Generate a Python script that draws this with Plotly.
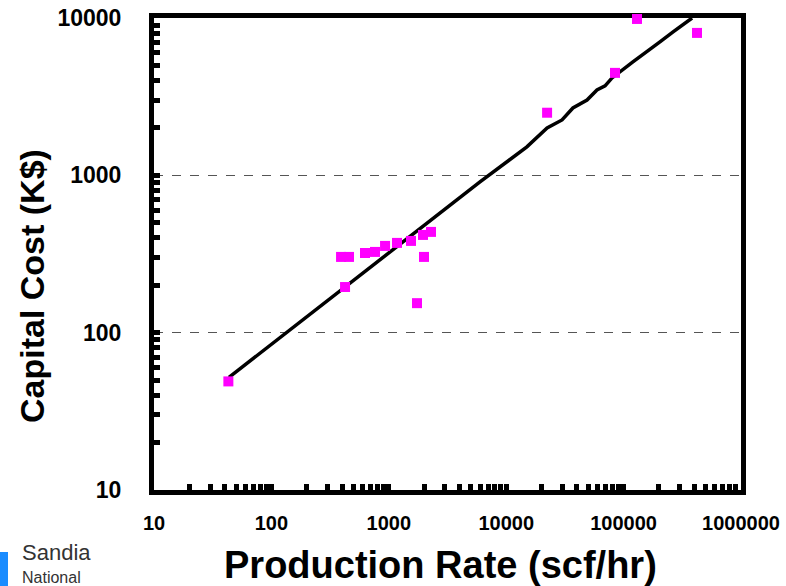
import plotly.graph_objects as go

# Data points (Production Rate scf/hr, Capital Cost K$)
rate = [43, 392, 458, 424, 627, 763, 929, 1175, 1546, 1955, 2287, 1994, 1738,
        22300, 84500, 130000, 422000]
cost = [49, 303, 303, 195, 321, 326, 356, 372, 383, 418, 437, 303, 154,
        2500, 4480, 9860, 8040]

# Fit line
fit_rate = [43.5, 5980, 15000, 22300, 29900, 37000, 48800, 59300, 69500, 79700,
            120000, 158000, 204000, 264000, 354000, 383000]
fit_cost = [52, 908, 1517, 2000, 2249, 2680, 3010, 3490, 3700, 4160,
            5260, 6090, 7050, 8160, 9590, 10000]

x_ticks = [10, 100, 1000, 10000, 100000, 1000000]
x_tick_text = ["10", "100", "1000", "10000", "100000", "1000000"]
y_ticks = [10, 100, 1000, 10000]
y_tick_text = ["10", "100", "1000", "10000"]

W, H = 786, 586
PL, PR, PT, PB = 154, 741, 18, 490          # plot area in page pixels
L, T = PL, PT
R, B = W - PR, H - PB
PW, PH = PR - PL, PB - PT


def px(x):
    return (x - PL) / PW


def py(y):
    return (PB - y) / PH


fig = go.Figure()
fig.add_trace(go.Scatter(x=fit_rate, y=fit_cost, mode="lines",
                         line=dict(color="black", width=3.5),
                         hoverinfo="skip", cliponaxis=False))
fig.add_trace(go.Scatter(x=rate, y=cost, mode="markers",
                         marker=dict(symbol="square", size=10, color="#ff00ff"),
                         cliponaxis=False))

axis_common = dict(
    type="log", showline=True, mirror=True, linewidth=5, linecolor="black",
    ticks="inside", ticklen=6, tickwidth=5, tickcolor="black",
    zeroline=False, layer="below traces", automargin=False,
    ticklabeloverflow="allow",
)

fig.update_xaxes(
    **axis_common, range=[1, 6], tickvals=x_ticks, ticktext=x_tick_text,
    showgrid=False,
    tickfont=dict(family="Liberation Sans, Arial", size=20, color="black", weight="bold"),
    ticklabelstandoff=11,
    minor=dict(ticks="inside", ticklen=6, tickwidth=5, tickcolor="black",
               dtick="D1", showgrid=False),
)
fig.update_yaxes(
    **axis_common, range=[1, 4], tickvals=y_ticks, ticktext=y_tick_text,
    showgrid=True, gridcolor="#555555", gridwidth=1, griddash="dash",
    tickfont=dict(family="Liberation Sans, Arial", size=23, color="black", weight="bold"),
    ticklabelstandoff=23,
    minor=dict(ticks="inside", ticklen=6, tickwidth=5, tickcolor="black",
               dtick="D1", showgrid=False),
)

annotations = [
    dict(text="<b>Capital Cost (K$)</b>", x=px(32), y=py(286), xref="paper", yref="paper",
         textangle=-90, showarrow=False, xanchor="center", yanchor="middle",
         font=dict(family="Liberation Sans, Arial", size=34, color="black")),
    dict(text="<b>Production Rate (scf/hr)</b>", x=px(440), y=py(565), xref="paper", yref="paper",
         showarrow=False, xanchor="center", yanchor="middle",
         font=dict(family="Liberation Sans, Arial", size=38, color="black")),
    dict(text="Sandia", x=px(20), y=py(552), xref="paper", yref="paper",
         showarrow=False, xanchor="left", yanchor="middle",
         font=dict(family="Liberation Sans Narrow, Arial Narrow, Liberation Sans", size=22, color="#333333")),
    dict(text="National", x=px(20), y=py(577), xref="paper", yref="paper",
         showarrow=False, xanchor="left", yanchor="middle",
         font=dict(family="Liberation Sans Narrow, Arial Narrow, Liberation Sans", size=16, color="#333333")),
]

shapes = [
    dict(type="rect", xref="paper", yref="paper", x0=px(-4), x1=px(8), y0=py(600), y1=py(552),
         fillcolor="#1a8cff", line=dict(width=0), layer="above"),
]

fig.update_layout(
    width=W, height=H,
    margin=dict(l=L, r=R, t=T, b=B),
    paper_bgcolor="white", plot_bgcolor="white",
    showlegend=False,
    annotations=annotations,
    shapes=shapes,
)

fig.write_html("out.html", config={"displayModeBar": False},
               post_script="document.body.style.margin='0';document.body.style.overflow='hidden';")
